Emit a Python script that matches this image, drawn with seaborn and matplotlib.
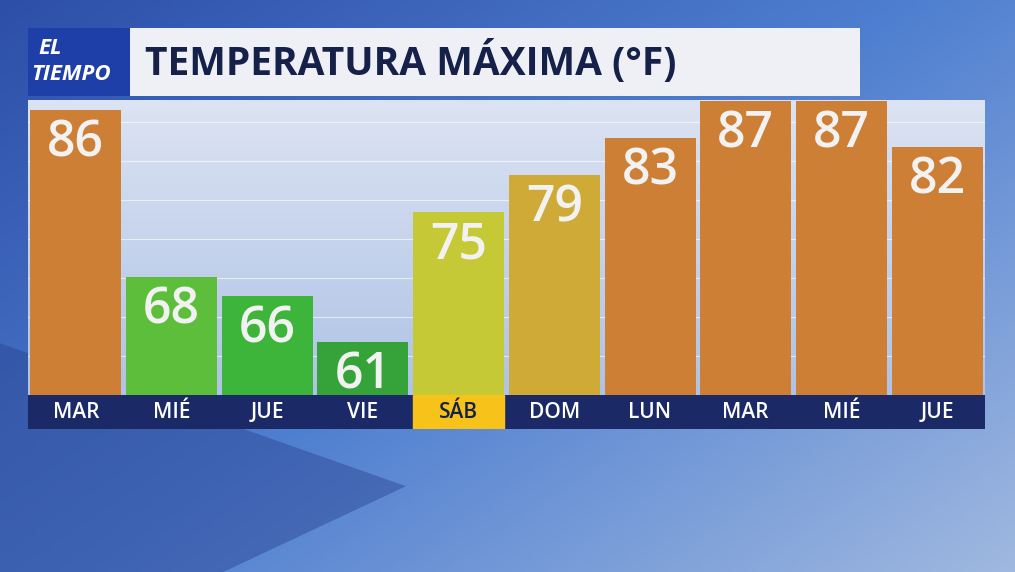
import numpy as np
import matplotlib
matplotlib.use("Agg")
import matplotlib.pyplot as plt
import seaborn as sns
import pandas as pd
from matplotlib.colors import LinearSegmentedColormap

days = ["MAR", "MIÉ", "JUE", "VIE", "SÁB", "DOM", "LUN", "MAR", "MIÉ", "JUE"]
temps = [86, 68, 66, 61, 75, 79, 83, 87, 87, 82]
colors = ["#CD7F35", "#5DBE3C", "#3DB53A", "#35A339", "#C5C936",
          "#CFAA36", "#CD7F35", "#CD7F35", "#CD7F35", "#CD7F35"]
title = "TEMPERATURA MÁXIMA (°F)"
highlight = "SÁB"

sns.set_theme(style="white")
plt.rcParams['font.family'] = ['Open Sans', 'DejaVu Sans']

W, H = 1015, 572
fig = plt.figure(figsize=(W/100, H/100), dpi=100)

# background
bg = fig.add_axes([0, 0, 1, 1]); bg.axis("off")
yy, xx = np.mgrid[0:1:200j, 0:1:200j]
grad = 0.55*xx + 0.45*yy
cmap = LinearSegmentedColormap.from_list("b", ["#2D4FA8", "#4F7FD0", "#9FB8E0"])
bg.imshow(grad, cmap=cmap, aspect="auto", extent=[0, 1, 0, 1], origin="upper")
bg.fill([0, 0.22, 0.4, 0], [0.0, 0.0, 0.15, 0.4], color="#2A4290", alpha=0.45, lw=0)
bg.set_xlim(0, 1); bg.set_ylim(0, 1)

def fa(x0, y0, x1, y1):
    return [x0/W, 1-y1/H, (x1-x0)/W, (y1-y0)/H]

# logo and title
lg = fig.add_axes(fa(28, 28, 130, 96)); lg.axis("off")
lg.add_patch(plt.Rectangle((0, 0), 1, 1, color="#1E3FA8", transform=lg.transAxes))
lg.text(0.1, 0.7, "EL", color="white", fontsize=16, style="italic", weight="bold", va="center", transform=lg.transAxes)
lg.text(0.03, 0.32, "TIEMPO", color="white", fontsize=16, style="italic", weight="bold", va="center", transform=lg.transAxes)
tt = fig.add_axes(fa(130, 28, 860, 96)); tt.axis("off")
tt.add_patch(plt.Rectangle((0, 0), 1, 1, color="#EEF0F6", transform=tt.transAxes))
tt.text(0.02, 0.5, title, color="#16214A", fontsize=28, weight="bold", va="center", transform=tt.transAxes)

# main panel
ax = fig.add_axes(fa(28, 100, 985, 395))
pg = np.linspace(0, 1, 100).reshape(-1, 1)
ax.imshow(pg, cmap=LinearSegmentedColormap.from_list("p", ["#AFC3E6", "#DCE3F2"]),
          aspect="auto", extent=[-0.5, 9.5, 55.3, 87.1], origin="lower", zorder=0)
for g in np.arange(59.5, 87, 4.2):
    ax.axhline(g, color="white", lw=0.8, alpha=0.6, zorder=1)
df = pd.DataFrame({"x": list(range(len(days))), "t": temps})
sns.barplot(data=df, x="x", y="t", hue="x", palette=colors, legend=False,
            width=0.95, ax=ax, zorder=2, saturation=1, linewidth=0, edgecolor="none")
for i, v in enumerate(temps):
    ax.text(i, v - 0.9, str(v), ha="center", va="top", color="#F2F2F2",
            fontsize=36, weight="semibold", zorder=3)
ax.set_xlim(-0.5, 9.5); ax.set_ylim(55.3, 87.1)
ax.axis("off")

# day strip
st = fig.add_axes(fa(28, 395, 985, 429))
st.set_xlim(-0.5, 9.5); st.set_ylim(0, 1)
st.add_patch(plt.Rectangle((-0.5, 0), 10, 1, color="#1B2A66"))
for i, d in enumerate(days):
    if d == highlight:
        st.add_patch(plt.Rectangle((i-0.475, 0), 0.95, 1, color="#F7C21A"))
        c = "#16214A"
    else:
        c = "white"
    st.text(i, 0.48, d, ha="center", va="center", color=c, fontsize=15, weight="semibold")
st.axis("off")

fig.savefig("out.png", dpi=100)
